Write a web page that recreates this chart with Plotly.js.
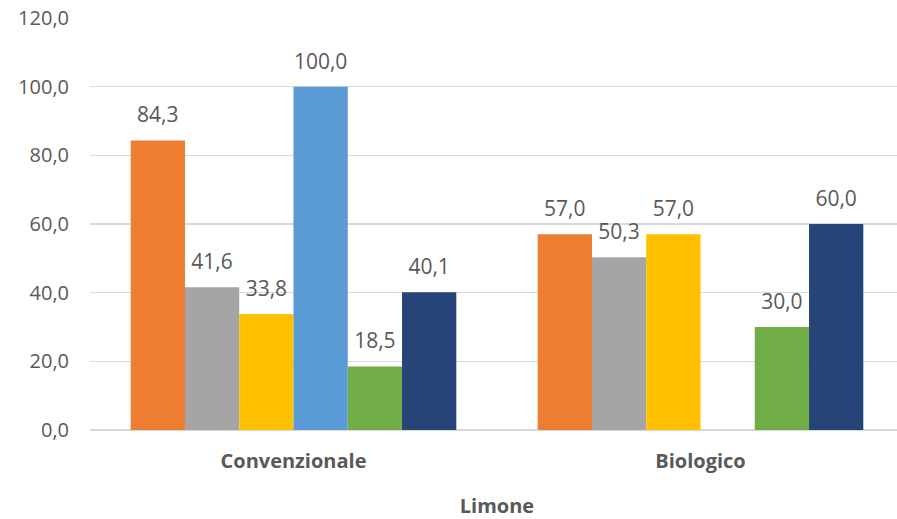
<!DOCTYPE html>
<html>
<head>
<meta charset="utf-8">
<script src="https://cdn.plot.ly/plotly-3.0.1.min.js"></script>
<style>
html,body{margin:0;padding:0;overflow:hidden;background:#fff;}
#chart{width:905px;height:519px;}
</style>
</head>
<body>
<div id="chart"></div>
<script>
var categories = ["Convenzionale", "Biologico"];
var seriesNames = ["Serie 1", "Serie 2", "Serie 3", "Serie 4", "Serie 5", "Serie 6"];
var serie1 = [84.3, 57.0];
var serie2 = [41.6, 50.3];
var serie3 = [33.8, 57.0];
var serie4 = [100.0, null];
var serie5 = [18.5, 30.0];
var serie6 = [40.1, 60.0];
var axisTitle = "Limone";

var allSeries = [serie1, serie2, serie3, serie4, serie5, serie6];
var colors = ["#ED7D31", "#A5A5A5", "#FFC000", "#5B9BD5", "#70AD47", "#264478"];
var textColor = "#595959";
var font = "Open Sans, Segoe UI, sans-serif";

var traces = [];
allSeries.forEach(function (vals, i) {
  traces.push({
    type: "bar",
    name: seriesNames[i],
    x: categories,
    y: vals,
    marker: {color: colors[i], line: {width: 0}},
    showlegend: false,
    hoverinfo: "y"
  });
});
allSeries.forEach(function (vals, i) {
  traces.push({
    type: "scatter",
    mode: "markers+text",
    x: categories,
    y: vals,
    text: vals.map(function (v) { return v === null ? "" : v.toFixed(1).replace(".", ","); }),
    textposition: "top center",
    textfont: {family: font, size: 21, color: textColor},
    marker: {size: 19, color: "rgba(0,0,0,0)"},
    showlegend: false,
    hoverinfo: "skip",
    cliponaxis: false
  });
});

var layout = {
  width: 905,
  height: 519,
  margin: {l: 90, r: 1, t: 17.5, b: 89},
  paper_bgcolor: "#ffffff",
  plot_bgcolor: "#ffffff",
  separators: ",.",
  barmode: "group",
  bargap: 0.2,
  bargroupgap: 0,
  scattermode: "group",
  scattergap: 0.2,
  font: {family: font, color: textColor},
  xaxis: {
    type: "category",
    showgrid: false,
    zeroline: false,
    showline: false,
    ticks: "",
    ticklabelstandoff: 17,
    tickfont: {family: font, size: 20, color: textColor, weight: "bold"},
    title: {text: axisTitle, font: {family: font, size: 20, color: textColor, weight: "bold"}, standoff: 28},
    automargin: false
  },
  yaxis: {
    range: [0, 120],
    dtick: 20,
    tick0: 0,
    tickformat: ".1f",
    showgrid: true,
    gridcolor: "#D9D9D9",
    gridwidth: 1.5,
    zeroline: true,
    zerolinecolor: "#D9D9D9",
    zerolinewidth: 1.5,
    showline: false,
    ticks: "",
    ticklabelstandoff: 20,
    tickfont: {family: font, size: 20, color: textColor},
    automargin: false
  }
};

Plotly.newPlot("chart", traces, layout, {displayModeBar: false, staticPlot: true});
</script>
</body>
</html>
